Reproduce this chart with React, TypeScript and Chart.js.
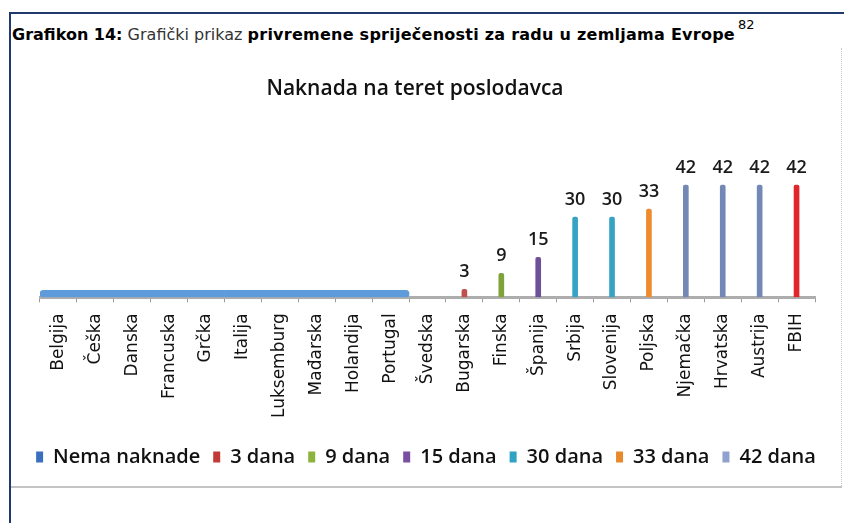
import React, { useEffect, useRef } from 'react';
import { Chart, registerables } from 'chart.js';

Chart.register(...registerables);

const N = null;

const CHART_TITLE = 'Naknada na teret poslodavca';

const CATEGORIES = [
  'Belgija', 'Češka', 'Danska', 'Francuska', 'Grčka', 'Italija', 'Luksemburg',
  'Mađarska', 'Holandija', 'Portugal', 'Švedska', 'Bugarska', 'Finska', 'Španija',
  'Srbija', 'Slovenija', 'Poljska', 'Njemačka', 'Hrvatska', 'Austrija', 'FBIH',
];

const SERIES_LABELS = ['Nema naknade', '3 dana', '9 dana', '15 dana', '30 dana', '33 dana', '42 dana'];

const NEMA_NAKNADE = [0, 0, 0, 0, 0, 0, 0, 0, 0, 0, N, N, N, N, N, N, N, N, N, N, N];
const DANA_3 = [N, N, N, N, N, N, N, N, N, N, N, 3, N, N, N, N, N, N, N, N, N];
const DANA_9 = [N, N, N, N, N, N, N, N, N, N, N, N, 9, N, N, N, N, N, N, N, N];
const DANA_15 = [N, N, N, N, N, N, N, N, N, N, N, N, N, 15, N, N, N, N, N, N, N];
const DANA_30 = [N, N, N, N, N, N, N, N, N, N, N, N, N, N, 30, 30, N, N, N, N, N];
const DANA_33 = [N, N, N, N, N, N, N, N, N, N, N, N, N, N, N, N, 33, N, N, N, N];
const DANA_42 = [N, N, N, N, N, N, N, N, N, N, N, N, N, N, N, N, N, 42, 42, 42, 42];

const BAR_COLORS = ['#5D9BDA', '#C0504D', '#7FA33A', '#6E5099', '#36A2C4', '#EE8B2D', '#7388B5'];
const LEGEND_COLORS = ['#3A6EBF', '#C23A36', '#8DB33F', '#7B4FA0', '#2FA3C4', '#E8892C', '#8EA1CF'];
const HIGHLIGHT_CATEGORY = 'FBIH';
const HIGHLIGHT_COLOR = '#E0262A';

const valueLabels = {
  id: 'valueLabels',
  afterDatasetsDraw(chart: any) {
    const ctx = chart.ctx;
    ctx.save();
    ctx.font = '600 18px "Open Sans"';
    ctx.fillStyle = '#1a1a1a';
    ctx.textAlign = 'center';
    ctx.textBaseline = 'alphabetic';
    chart.data.datasets.forEach((ds: any, di: number) => {
      if (di === 0) return;
      const meta = chart.getDatasetMeta(di);
      meta.data.forEach((el: any, i: number) => {
        const v = ds.data[i];
        if (v == null) return;
        ctx.fillText(String(v), el.x, el.y - 12);
      });
    });
    ctx.restore();
  },
};

export default function App() {
  const canvasRef = useRef<HTMLCanvasElement | null>(null);

  useEffect(() => {
    const canvas = canvasRef.current;
    if (!canvas) return;
    const seriesData = [NEMA_NAKNADE, DANA_3, DANA_9, DANA_15, DANA_30, DANA_33, DANA_42];
    const lastNema = NEMA_NAKNADE.reduce((acc: number, v, i) => (v != null ? i : acc), -1);

    const datasets: any[] = seriesData.map((data, si) => {
      if (si === 0) {
        return {
          label: SERIES_LABELS[si],
          data,
          backgroundColor: BAR_COLORS[0],
          borderWidth: 0,
          borderSkipped: false,
          minBarLength: 7,
          barPercentage: 1,
          categoryPercentage: 1,
          borderRadius: (c: any) => {
            if (c.dataIndex === 0) return { topLeft: 4, bottomLeft: 4, topRight: 0, bottomRight: 0 };
            if (c.dataIndex === lastNema) return { topLeft: 0, bottomLeft: 0, topRight: 4, bottomRight: 4 };
            return 0;
          },
        };
      }
      return {
        label: SERIES_LABELS[si],
        data,
        backgroundColor: (c: any) =>
          CATEGORIES[c.dataIndex] === HIGHLIGHT_CATEGORY ? HIGHLIGHT_COLOR : BAR_COLORS[si],
        borderWidth: 0,
        barThickness: 5,
        borderRadius: 2,
      };
    });

    const hiddenSideAxis = (position: 'left' | 'right', width: number) => ({
      position,
      display: true,
      min: 0,
      max: 60,
      grid: { display: false, drawTicks: false },
      border: { display: false },
      ticks: { display: false },
      afterFit: (scale: any) => {
        scale.width = width;
      },
    });

    const chart = new Chart(canvas, {
      type: 'bar',
      data: { labels: CATEGORIES, datasets },
      plugins: [valueLabels],
      options: {
        animation: false,
        responsive: false,
        maintainAspectRatio: false,
        layout: { padding: { left: 0, right: 0, top: 93, bottom: 9 } },
        plugins: {
          tooltip: { enabled: false },
          title: { display: false },
          legend: {
            position: 'bottom',
            labels: {
              color: '#111',
              font: { family: '"Open Sans"', size: 20, weight: '600' as any },
              boxWidth: 7,
              boxHeight: 11,
              padding: 13,
              generateLabels: (ch: any) =>
                ch.data.datasets.map((ds: any, i: number) => ({
                  text: ds.label,
                  fillStyle: LEGEND_COLORS[i],
                  strokeStyle: LEGEND_COLORS[i],
                  lineWidth: 0,
                  hidden: false,
                  datasetIndex: i,
                  fontColor: '#111',
                })),
            },
          },
        },
        scales: {
          x: {
            stacked: true,
            grid: {
              display: true,
              drawOnChartArea: false,
              drawTicks: true,
              tickLength: 5,
              color: '#9A9A9A',
              offset: true,
            },
            border: { display: true, color: '#ADADAD', width: 3 },
            ticks: {
              autoSkip: false,
              maxRotation: 90,
              minRotation: 90,
              padding: 11,
              color: '#111',
              font: { family: '"DejaVu Sans"', size: 17 },
            },
            afterFit: (scale: any) => {
              scale.height += 5;
            },
          },
          y: hiddenSideAxis('left', 29) as any,
          yRight: hiddenSideAxis('right', 26) as any,
        },
      },
    });
    return () => chart.destroy();
  }, []);

  return (
    <div style={{ position: 'absolute', left: 0, top: 0, width: 844, height: 523, background: '#fff', overflow: 'hidden' }}>
      <div style={{ position: 'absolute', left: 9, top: 12, width: 835, height: 2, background: '#1F3B6E' }} />
      <div style={{ position: 'absolute', left: 9, top: 12, width: 2, height: 511, background: '#1F3B6E' }} />
      <div
        style={{
          position: 'absolute',
          left: 12,
          top: 25,
          fontFamily: '"DejaVu Sans"',
          fontSize: 16,
          lineHeight: '20px',
          whiteSpace: 'nowrap',
          color: '#000',
        }}
      >
        <span style={{ fontWeight: 'bold' }}>Grafikon 14:</span>{' '}
        <span style={{ color: '#333' }}>Grafički prikaz</span>{' '}
        <span style={{ fontWeight: 'bold', letterSpacing: 0.25 }}>privremene spriječenosti za radu u zemljama Evrope</span>
        <span style={{ position: 'relative', top: -11, fontSize: 13, marginLeft: 3 }}>82</span>
      </div>
      <div style={{ position: 'absolute', left: 841, top: 48, width: 0, height: 438, borderLeft: '1px dotted #C8C8C8' }} />
      <div style={{ position: 'absolute', left: 11, top: 486, width: 831, height: 2, background: '#C4C4C4' }} />
      <canvas
        ref={canvasRef}
        width={830}
        height={442}
        style={{ position: 'absolute', left: 11, top: 44, width: 830, height: 442 }}
      />
      <div
        style={{
          position: 'absolute',
          left: 11,
          top: 73,
          width: 808,
          textAlign: 'center',
          fontFamily: '"Open Sans"',
          fontWeight: 600,
          fontSize: 21,
          lineHeight: '28px',
          color: '#111',
          whiteSpace: 'nowrap',
        }}
      >
        {CHART_TITLE}
      </div>
    </div>
  );
}
